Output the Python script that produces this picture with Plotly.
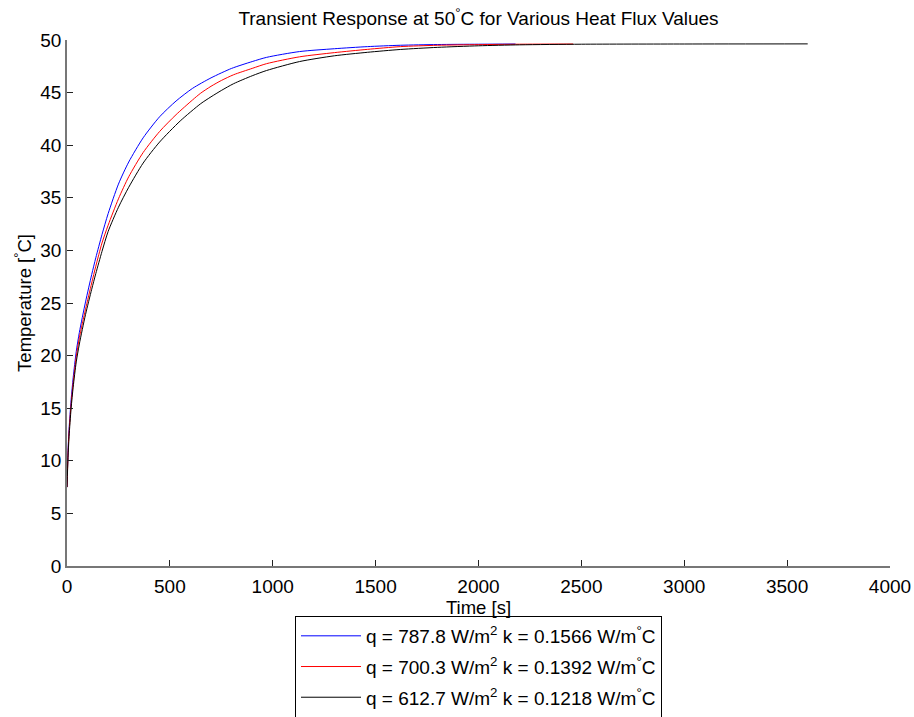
import plotly.graph_objects as go

# ---- data ----
t_blue = [0, 5, 10, 20, 30, 45, 60, 90, 120, 140, 170, 200, 250, 300, 370, 450, 530, 610,
          700, 800, 900, 970, 1130, 1300, 1460, 1620, 1800, 2000, 2180]
T_blue = [7.5, 11.0, 13.0, 15.8, 17.9, 20.4, 22.2, 25.1, 27.7, 29.3, 31.5, 33.5, 36.3, 38.4, 40.7,
          42.7, 44.2, 45.4, 46.4, 47.3, 47.95, 48.35, 48.9, 49.17, 49.37, 49.5, 49.57, 49.6, 49.62]

t_red = [0, 5, 10, 20, 30, 45, 60, 90, 120, 140, 170, 200, 250, 300, 370, 450, 530, 610, 650,
         700, 750, 810, 900, 970, 1130, 1300, 1460, 1620, 1800, 2000, 2200, 2460]
T_red = [7.5, 10.7, 12.7, 15.4, 17.4, 19.9, 21.7, 24.4, 26.9, 28.5, 30.7, 32.4, 34.9, 37.0, 39.3,
         41.3, 42.9, 44.3, 44.95, 45.6, 46.15, 46.7, 47.3, 47.75, 48.4, 48.8, 49.11, 49.37, 49.5,
         49.56, 49.6, 49.62]

t_black = [0, 5, 10, 20, 30, 45, 60, 90, 120, 140, 170, 200, 250, 300, 370, 450, 550, 650, 700,
           750, 810, 900, 970, 1130, 1300, 1460, 1620, 1800, 2000, 2200, 2500, 3000, 3600]
T_black = [7.5, 10.3, 12.3, 15.0, 17.0, 19.4, 21.1, 23.9, 26.3, 27.8, 29.9, 31.8, 34.1, 36.0, 38.3,
           40.3, 42.3, 43.95, 44.6, 45.2, 45.85, 46.6, 47.1, 47.95, 48.5, 48.83, 49.1, 49.3, 49.45,
           49.54, 49.6, 49.62, 49.63]

names = ["q = 787.8 W/m<sup>2</sup> k = 0.1566 W/m<sup>°</sup>C",
         "q = 700.3 W/m<sup>2</sup> k = 0.1392 W/m<sup>°</sup>C",
         "q = 612.7 W/m<sup>2</sup> k = 0.1218 W/m<sup>°</sup>C"]
x_ticks = [0, 500, 1000, 1500, 2000, 2500, 3000, 3500, 4000]
y_ticks = [0, 5, 10, 15, 20, 25, 30, 35, 40, 45, 50]

fig = go.Figure()
for i, (t, T, nm, col) in enumerate([(t_blue, T_blue, names[0], "#0000ff"),
                                     (t_red, T_red, names[1], "#ff0000"),
                                     (t_black, T_black, names[2], "#000000")]):
    fig.add_trace(go.Scatter(x=t, y=T, mode="lines", name=nm, legendgroup=f"g{i}",
                             line=dict(color=col, width=1, shape="spline", smoothing=0.7)))

font = "Liberation Sans, Arial, sans-serif"
fig.update_layout(
    width=914, height=717,
    margin=dict(l=67, r=24, t=40, b=151, autoexpand=False),
    paper_bgcolor="white", plot_bgcolor="white",
    font=dict(family=font, size=19, color="black"),
    title=dict(text="Transient Response at 50<sup>°</sup>C for Various Heat Flux Values",
               xref="paper", x=0.5, xanchor="center", y=0.975, yanchor="middle",
               font=dict(size=19)),
    showlegend=True,
    legend=dict(x=0.5, xanchor="center", y=-0.095, yanchor="top",
                orientation="v", bordercolor="black", borderwidth=1, bgcolor="white",
                font=dict(size=19), tracegroupgap=3, itemwidth=60),
)
fig.update_xaxes(range=[0, 4000], tickvals=x_ticks, ticks="inside", ticklen=6,
                 tickcolor="#222", showline=True, linecolor="#777", linewidth=1.5,
                 showgrid=False, zeroline=False, mirror=False, ticklabelstandoff=2,
                 title=dict(text="Time [s]", standoff=0, font=dict(size=18.5)), tickfont=dict(size=19))
fig.update_yaxes(range=[0, 50], tickvals=y_ticks, ticks="inside", ticklen=6,
                 tickcolor="#222", showline=True, linecolor="#777", linewidth=1.5,
                 showgrid=False, zeroline=False, mirror=False,
                 title=dict(text="Temperature [<sup>°</sup>C]", standoff=4, font=dict(size=18.5)),
                 tickfont=dict(size=19))

fig.write_html("out.html")
